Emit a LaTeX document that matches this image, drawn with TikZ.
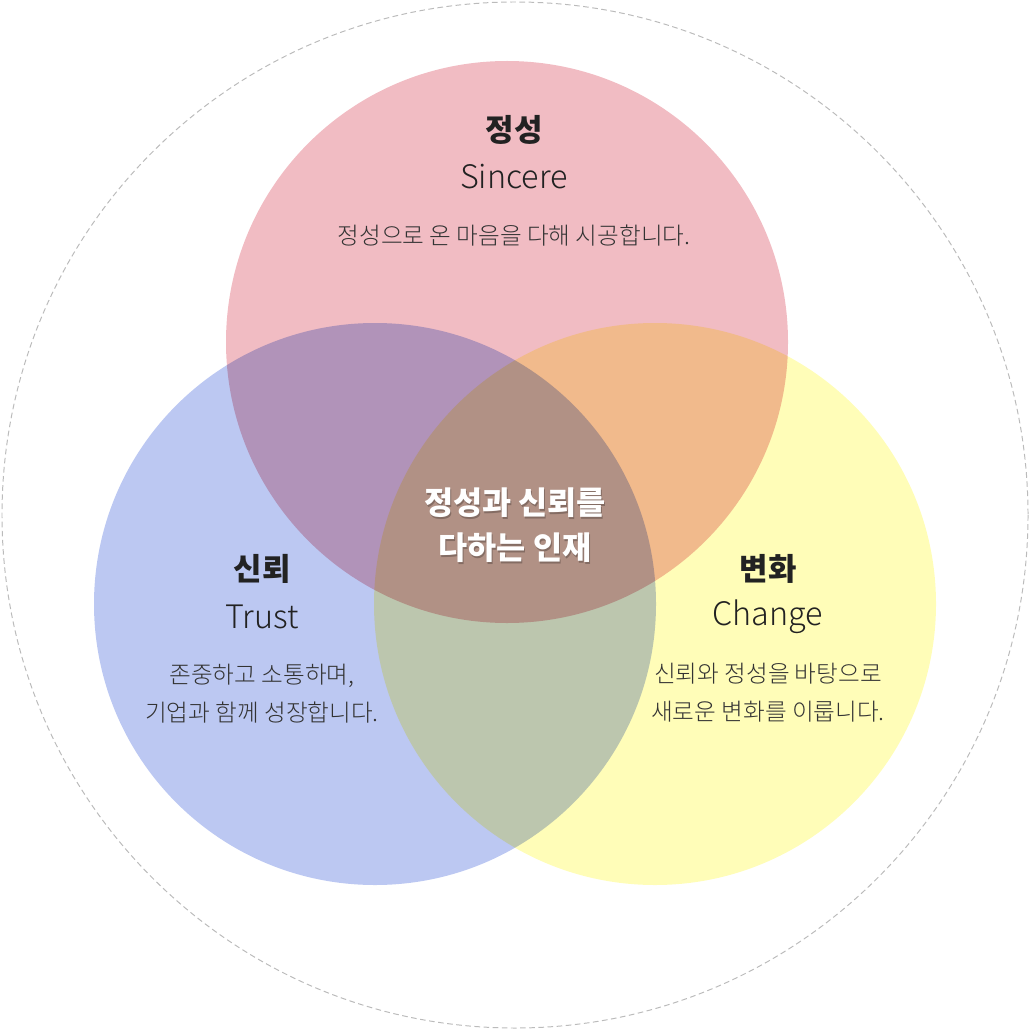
\documentclass[tikz,border=0pt]{standalone}
\usepackage{fontspec}
\setmainfont{Noto Sans CJK KR}
\IfFontExistsTF{Noto Sans CJK KR Light}
    {\newfontfamily\lightfont{Noto Sans CJK KR Light}}
    {\newfontfamily\lightfont{Noto Sans CJK KR}}
\definecolor{sincerepink}{HTML}{F1BCC3}
\definecolor{trustblue}{HTML}{BCC8F2}
\definecolor{changeyellow}{HTML}{FFFDB8}
\definecolor{textdark}{HTML}{222222}
\definecolor{textbody}{HTML}{333333}
\definecolor{outline}{HTML}{BBBBBB}
\begin{document}
\begin{tikzpicture}[x=0.025cm, y=-0.025cm,
    heading/.style={font=\bfseries\fontsize{22}{26}\selectfont, text=textdark},
    english/.style={font=\lightfont\fontsize{23}{27}\selectfont, text=textdark},
    bodytext/.style={font=\lightfont\fontsize{16.8}{27}\selectfont, text=textbody, align=center},
    coretext/.style={font=\bfseries\fontsize{22.5}{32}\selectfont, text=white, align=center}]
    \useasboundingbox (0,0) rectangle (1030,1030);

    % Outer dashed circle
    \draw[outline, line width=0.7pt, dash pattern=on 4pt off 2.5pt] (515,515) circle (513);

    % Three circles, multiplied where they overlap
    \begin{scope}[blend group=multiply]
        \fill[sincerepink] (507,342) circle (281);
        \fill[trustblue] (375,604) circle (281);
        \fill[changeyellow] (655,604) circle (281);
    \end{scope}

    % Sincere
    \node[heading] (sincere-ko) at (514,130) {정성};
    \node[english] (sincere-en) at (514,177) {Sincere};
    \node[bodytext] (sincere-text) at (514,236) {정성으로 온 마음을 다해 시공합니다.};

    % Trust
    \node[heading] (trust-ko) at (262,569) {신뢰};
    \node[english] (trust-en) at (262,617) {Trust};
    \node[bodytext] (trust-text) at (262,694) {존중하고 소통하며,\\기업과 함께 성장합니다.};

    % Change
    \node[heading] (change-ko) at (768,569) {변화};
    \node[english] (change-en) at (768,617) {Change};
    \node[bodytext] (change-text) at (768,693) {신뢰와 정성을 바탕으로\\새로운 변화를 이룹니다.};

    % Centre, with a soft shadow under the white text
    \node[coretext, text=black, opacity=0.25] (core-shadow) at (516,527) {정성과 신뢰를\\다하는 인재};
    \node[coretext] (core) at (515,525) {정성과 신뢰를\\다하는 인재};
\end{tikzpicture}
\end{document}
